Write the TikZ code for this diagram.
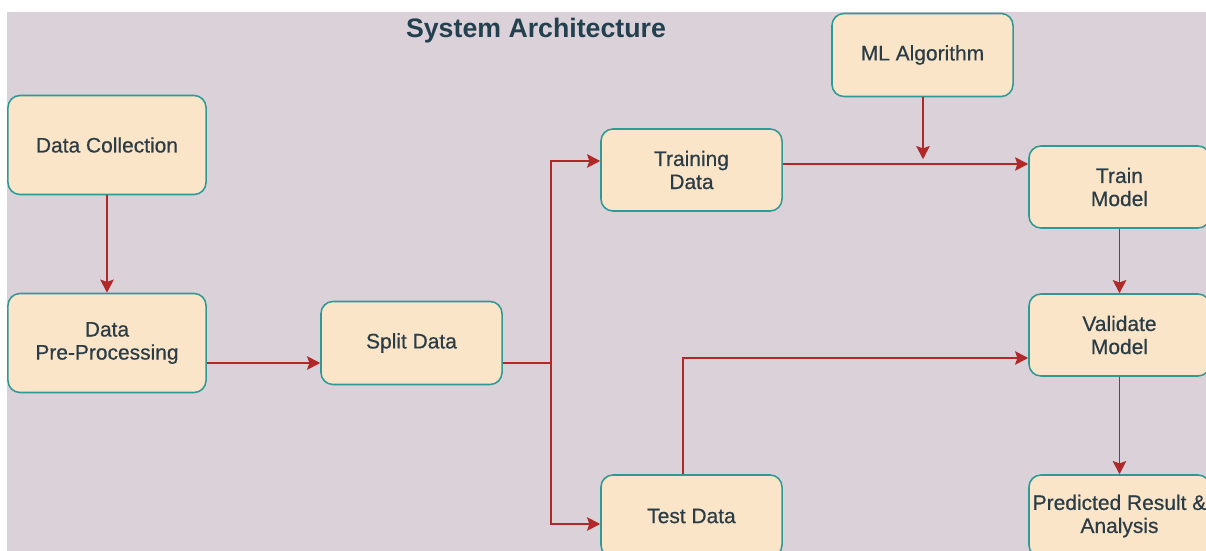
\documentclass[tikz,border=0pt]{standalone}
\usepackage{fontspec}
\setmainfont{Liberation Sans}
\newfontfamily\boxfont[FakeBold=0.5]{Liberation Sans}
\usepackage{xcolor}
\usetikzlibrary{arrows.meta, positioning}
\definecolor{bgcol}{HTML}{DBD1D9}
\definecolor{boxfill}{HTML}{FAE5C8}
\definecolor{boxline}{HTML}{2E9A96}
\definecolor{arrowcol}{HTML}{B02828}
\definecolor{txtcol}{HTML}{2A3C46}
\definecolor{titlecol}{HTML}{23404F}

\begin{document}
\begin{tikzpicture}[
  x=0.025cm, y=-0.025cm,
  stage/.style={draw=boxline, fill=boxfill, line width=1.1pt, rounded corners=0.3cm,
    minimum width=4.525cm, minimum height=2.05cm, inner sep=0pt, align=center,
    text=txtcol, font=\boxfont\fontsize{14.9}{16.4}\selectfont},
  bigstage/.style={stage, minimum width=4.95cm, minimum height=2.475cm},
  flow/.style={-{Stealth[length=3.3mm, width=3.4mm, inset=0.6mm]}, draw=arrowcol, line width=1pt},
]
  \fill[white] (0,0) rectangle (1206,551);
  \clip (0,0) rectangle (1206,551);
  \fill[bgcol] (7,12) rectangle (1206,551);

  \node[font=\fontsize{19}{22}\selectfont\bfseries, text=titlecol] (title) at (536,31) {System Architecture};

  % left column
  \node[bigstage] (collect) at (107,145) {Data Collection};
  \node[bigstage] (prep) at (107,343) {Data\\Pre-Processing};
  \node[stage, minimum height=2.075cm] (split) at (411.5,343) {Split Data};

  % middle
  \node[stage] (train) at (691.5,170) {Training\\Data};
  \node[stage] (test) at (691.5,516) {Test Data};
  \node[stage, minimum height=2.075cm] (algo) at (922.5,55) {ML Algorithm};

  % right column
  \node[stage] (fit) at (1119.5,187) {Train\\Model};
  \node[stage] (valid) at (1119.5,335) {Validate\\Model};
  \node[stage] (result) at (1119.5,516) {Predicted Result \&\\Analysis};

  \coordinate (fork) at (551,363);
  \coordinate (join) at (923,164);
  \coordinate (bend) at (683,358);

  \draw[flow] (collect) -- (prep);
  \draw[flow] (prep.east |- fork) -- (split.west |- fork);
  \draw[flow, -] (split.east |- fork) -- (fork);
  \draw[flow] (fork) |- ([yshift=0.225cm]train.west);
  \draw[flow] (fork) |- ([yshift=-0.2cm]test.west);
  \draw[flow] (train.east |- join) -- (fit.west |- join);
  \draw[flow] (algo.south -| join) -- ([yshift=0.12cm]join);
  \draw[flow] (fit) -- (valid);
  \draw[flow] (test.north -| bend) |- (valid.west |- bend);
  \draw[flow] (valid) -- (result);
\end{tikzpicture}
\end{document}
